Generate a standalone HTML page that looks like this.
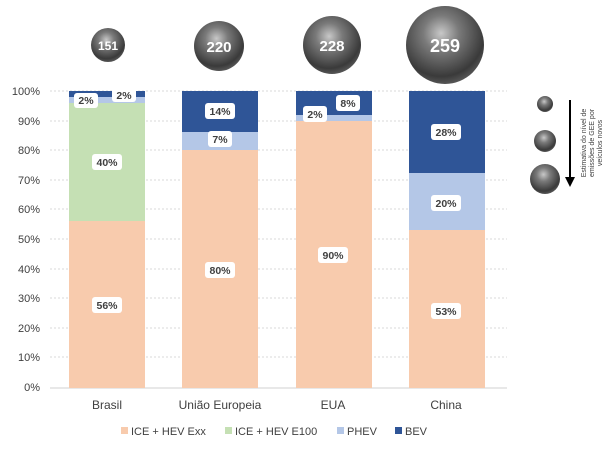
<!DOCTYPE html>
<html><head><meta charset="utf-8"><style>body{margin:0;background:#fff}svg{display:block}</style></head>
<body>
<svg width="616" height="450" xmlns="http://www.w3.org/2000/svg" font-family="Liberation Sans, sans-serif">
<defs>
<radialGradient id="sp" cx="0.45" cy="0.35" r="0.65">
<stop offset="0" stop-color="#c8c8c8"/><stop offset="0.35" stop-color="#7a7a7a"/><stop offset="0.85" stop-color="#3a3a3a"/><stop offset="1" stop-color="#555"/>
</radialGradient>
</defs>
<g stroke="#d9d9d9" stroke-dasharray="2,2" stroke-width="1">
<line x1="50" x2="507" y1="91" y2="91"/><line x1="50" x2="507" y1="121" y2="121"/><line x1="50" x2="507" y1="150" y2="150"/><line x1="50" x2="507" y1="180" y2="180"/><line x1="50" x2="507" y1="209" y2="209"/><line x1="50" x2="507" y1="239" y2="239"/><line x1="50" x2="507" y1="269" y2="269"/><line x1="50" x2="507" y1="298" y2="298"/><line x1="50" x2="507" y1="328" y2="328"/><line x1="50" x2="507" y1="357" y2="357"/>
</g>
<line x1="50" x2="507" y1="388" y2="388" stroke="#d0d0d0"/>
<g font-size="11" fill="#404040" text-anchor="end">
<text x="40" y="95">100%</text><text x="40" y="125">90%</text><text x="40" y="154">80%</text><text x="40" y="184">70%</text><text x="40" y="213">60%</text><text x="40" y="243">50%</text><text x="40" y="273">40%</text><text x="40" y="302">30%</text><text x="40" y="332">20%</text><text x="40" y="361">10%</text><text x="40" y="391">0%</text>
</g>
<!-- Brasil -->
<rect x="69" y="221" width="76" height="167" fill="#f8cbad"/>
<rect x="69" y="103" width="76" height="118" fill="#c5e0b4"/>
<rect x="69" y="97" width="76" height="6" fill="#b4c7e7"/>
<rect x="69" y="91" width="76" height="6" fill="#2f5597"/>
<!-- UE -->
<rect x="182" y="150" width="76" height="238" fill="#f8cbad"/>
<rect x="182" y="132" width="76" height="18" fill="#b4c7e7"/>
<rect x="182" y="91" width="76" height="41" fill="#2f5597"/>
<!-- EUA -->
<rect x="296" y="121" width="76" height="267" fill="#f8cbad"/>
<rect x="296" y="115" width="76" height="6" fill="#b4c7e7"/>
<rect x="296" y="91" width="76" height="24" fill="#2f5597"/>
<!-- China -->
<rect x="409" y="230" width="76" height="158" fill="#f8cbad"/>
<rect x="409" y="173" width="76" height="57" fill="#b4c7e7"/>
<rect x="409" y="91" width="76" height="82" fill="#2f5597"/>
<g font-size="10.5" font-weight="bold" fill="#404040" text-anchor="middle">
<rect x="74" y="93" width="24" height="15" rx="3" fill="#fff"/><text x="86" y="104">2%</text>
<rect x="112" y="87" width="24" height="15" rx="3" fill="#fff"/><text x="124" y="99">2%</text>
<rect x="92" y="154" width="30" height="16" rx="3" fill="#fff"/><text x="107" y="166">40%</text>
<rect x="92" y="297" width="30" height="16" rx="3" fill="#fff"/><text x="107" y="309">56%</text>
<rect x="205" y="103" width="30" height="16" rx="3" fill="#fff"/><text x="220" y="115">14%</text>
<rect x="208" y="131" width="24" height="16" rx="3" fill="#fff"/><text x="220" y="143">7%</text>
<rect x="205" y="262" width="30" height="16" rx="3" fill="#fff"/><text x="220" y="274">80%</text>
<rect x="336" y="95" width="24" height="16" rx="3" fill="#fff"/><text x="348" y="107">8%</text>
<rect x="303" y="106" width="24" height="16" rx="3" fill="#fff"/><text x="315" y="118">2%</text>
<rect x="318" y="247" width="30" height="16" rx="3" fill="#fff"/><text x="333" y="259">90%</text>
<rect x="431" y="124" width="30" height="16" rx="3" fill="#fff"/><text x="446" y="136">28%</text>
<rect x="431" y="195" width="30" height="16" rx="3" fill="#fff"/><text x="446" y="207">20%</text>
<rect x="431" y="303" width="30" height="16" rx="3" fill="#fff"/><text x="446" y="315">53%</text>
</g>
<g font-size="12" fill="#404040" text-anchor="middle">
<text x="107" y="409">Brasil</text><text x="220" y="409">União Europeia</text><text x="333" y="409">EUA</text><text x="446" y="409">China</text>
</g>
<g font-size="11" fill="#404040">
<rect x="121" y="427" width="7" height="7" fill="#f8cbad"/><text x="131" y="435">ICE + HEV Exx</text>
<rect x="225" y="427" width="7" height="7" fill="#c5e0b4"/><text x="235" y="435">ICE + HEV E100</text>
<rect x="337" y="427" width="7" height="7" fill="#b4c7e7"/><text x="347" y="435">PHEV</text>
<rect x="395" y="427" width="7" height="7" fill="#2f5597"/><text x="405" y="435">BEV</text>
</g>
<circle cx="108" cy="45" r="17" fill="url(#sp)"/>
<circle cx="219" cy="46" r="25" fill="url(#sp)"/>
<circle cx="332" cy="45" r="29" fill="url(#sp)"/>
<circle cx="445" cy="45" r="39" fill="url(#sp)"/>
<g font-weight="bold" fill="#fff" text-anchor="middle">
<text x="108" y="50" font-size="12">151</text>
<text x="219" y="52" font-size="15">220</text>
<text x="332" y="51" font-size="15">228</text>
<text x="445" y="52" font-size="18">259</text>
</g>
<circle cx="545" cy="104" r="8" fill="url(#sp)"/>
<circle cx="545" cy="141" r="11" fill="url(#sp)"/>
<circle cx="545" cy="179" r="15" fill="url(#sp)"/>
<line x1="570" y1="100" x2="570" y2="178" stroke="#000" stroke-width="2"/>
<polygon points="565,177 575,177 570,187" fill="#000"/>
<g font-size="7" fill="#404040" text-anchor="middle" transform="translate(590,143) rotate(-90)">
<text x="0" y="-4">Estimativa do nível de</text>
<text x="0" y="4">emissões de GEE por</text>
<text x="0" y="12">veículos novos</text>
</g>
</svg>
</body></html>
